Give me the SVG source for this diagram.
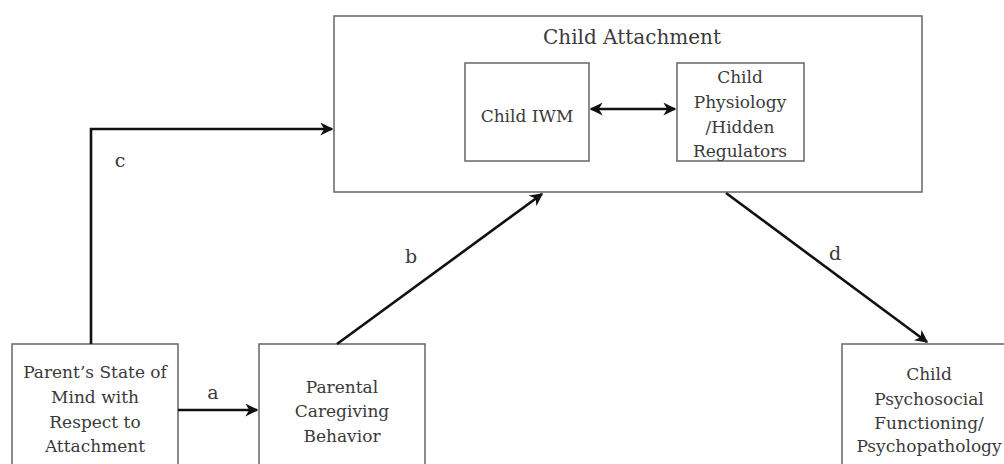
<svg xmlns="http://www.w3.org/2000/svg" width="1004" height="464" viewBox="0 0 1004 464">
<style>
.box{fill:#fff;stroke:#6e6e6e;stroke-width:1.6}
.t{font-family:"DejaVu Serif","Liberation Serif",serif;font-size:17px;fill:#3a3a3a;text-anchor:middle}
.lab{font-family:"DejaVu Serif","Liberation Serif",serif;font-size:19px;fill:#3a3a3a;text-anchor:middle}
.c{fill:none;stroke:#111;stroke-width:2.6}
</style>
<defs>
<marker id="ah" viewBox="0 0 10 10" refX="9" refY="5" markerWidth="5" markerHeight="5" orient="auto-start-reverse" markerUnits="strokeWidth">
<path d="M0,0 L10,5 L0,10 L3,5 Z" fill="#111"/>
</marker>
</defs>
<rect width="1004" height="464" fill="#fff"/>
<g id="child-attachment">
<rect class="box" x="334" y="16" width="588" height="176"/>
<text class="t" x="632" y="44" style="font-size:20px">Child Attachment</text>
</g>
<g id="child-iwm">
<rect class="box" x="465" y="63" width="124" height="98"/>
<text class="t" x="527" y="122">Child IWM</text>
</g>
<g id="child-physiology">
<rect class="box" x="677" y="63" width="127" height="98"/>
<text class="t" x="740" y="83">Child</text>
<text class="t" x="740" y="108">Physiology</text>
<text class="t" x="740" y="133">/Hidden</text>
<text class="t" x="740" y="157">Regulators</text>
</g>
<g id="parent-state">
<rect class="box" x="12" y="344" width="166" height="130"/>
<text class="t" x="95" y="378">Parent’s State of</text>
<text class="t" x="95" y="403">Mind with</text>
<text class="t" x="95" y="428">Respect to</text>
<text class="t" x="95" y="452">Attachment</text>
</g>
<g id="parental-caregiving">
<rect class="box" x="259" y="344" width="166" height="130"/>
<text class="t" x="342" y="393">Parental</text>
<text class="t" x="342" y="417">Caregiving</text>
<text class="t" x="342" y="442">Behavior</text>
</g>
<g id="child-psychosocial">
<rect class="box" x="842" y="344" width="174" height="130"/>
<text class="t" x="929" y="380">Child</text>
<text class="t" x="929" y="405">Psychosocial</text>
<text class="t" x="929" y="429">Functioning/</text>
<text class="t" x="929" y="452">Psychopathology</text>
</g>
<g id="connectors">
<line class="c" x1="591" y1="109" x2="675" y2="109" marker-start="url(#ah)" marker-end="url(#ah)"/>
<line class="c" x1="178" y1="410" x2="257" y2="410" marker-end="url(#ah)"/>
<line class="c" x1="337" y1="344" x2="542" y2="194" marker-end="url(#ah)"/>
<polyline class="c" points="91,344 91,129 332,129" marker-end="url(#ah)"/>
<line class="c" x1="726" y1="193" x2="927" y2="342" marker-end="url(#ah)"/>
<text class="lab" x="213" y="399">a</text>
<text class="lab" x="411" y="263">b</text>
<text class="lab" x="120" y="167">c</text>
<text class="lab" x="835" y="260">d</text>
</g>
</svg>
